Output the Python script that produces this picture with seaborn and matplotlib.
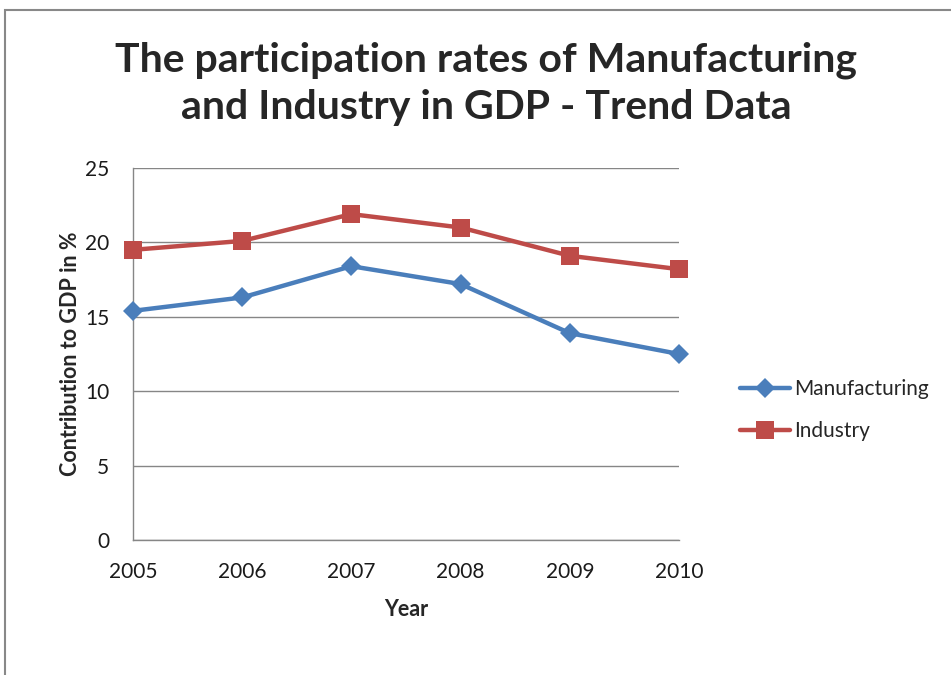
import matplotlib
matplotlib.use("Agg")
import matplotlib.pyplot as plt
import matplotlib.patches as mpatches
import seaborn as sns
import pandas as pd

years = [2005, 2006, 2007, 2008, 2009, 2010]
manufacturing = [15.4, 16.3, 18.4, 17.2, 13.9, 12.5]
industry = [19.5, 20.1, 21.9, 21.0, 19.1, 18.2]
series_names = ["Manufacturing", "Industry"]
y_ticks = [0, 5, 10, 15, 20, 25]

df = pd.DataFrame({
    "Year": years * 2,
    "Value": manufacturing + industry,
    "Series": [series_names[0]] * len(years) + [series_names[1]] * len(years),
})

sns.set_theme(style="white")
plt.rcParams["font.family"] = ["Lato", "DejaVu Sans"]

fig = plt.figure(figsize=(9.51, 6.75), dpi=100)
ax = fig.add_axes([133 / 951, 1 - 540 / 675, (679 - 133) / 951, (540 - 168) / 675])

palette = {"Manufacturing": "#4A7EBB", "Industry": "#BE4B48"}
markers = {"Manufacturing": "D", "Industry": "s"}
msizes = {"Manufacturing": 10, "Industry": 13}
sns.lineplot(data=df, x="Year", y="Value", hue="Series", style="Series",
             palette=palette, markers=markers, dashes=False,
             linewidth=3.2, markeredgewidth=0,
             ax=ax, legend=False)
for line, name in zip(ax.lines, series_names):
    line.set_clip_on(False)
    line.set_markersize(msizes[name])
    line.set_zorder(3)

ax.set_xlim(2005, 2010)
ax.set_ylim(0, 25)
ax.set_xticks(years)
ax.set_xticklabels([str(y) for y in years])
ax.set_yticks(y_ticks)
ax.yaxis.grid(True, color="#868686", linewidth=1)
ax.set_axisbelow(True)
ax.xaxis.grid(False)
for side in ["top", "right"]:
    ax.spines[side].set_visible(False)
for side in ["left", "bottom"]:
    ax.spines[side].set_color("#868686")
    ax.spines[side].set_linewidth(1)
ax.tick_params(axis="both", which="major", direction="out", length=5,
               width=1, color="#868686", labelsize=15, labelcolor="#1a1a1a")
ax.tick_params(axis="x", pad=11)
ax.tick_params(axis="y", pad=12)

ax.set_xlabel("Year", fontsize=15.5, fontweight="bold", labelpad=12)
ax.set_ylabel("Contribution to GDP in %", fontsize=15.5, fontweight="bold", labelpad=3)

fig.text(0.511, 0.876, "The participation rates of Manufacturing\nand Industry in GDP - Trend Data",
         ha="center", va="center", fontsize=29.5, fontweight="bold", linespacing=1.35)

handles = [
    plt.Line2D([], [], color=palette[n], marker=markers[n], linewidth=3.2,
               markersize=msizes[n], markeredgewidth=0)
    for n in series_names
]
fig.legend(handles, series_names, loc="center left",
           bbox_to_anchor=(740 / 951, 1 - 410 / 675), frameon=False,
           borderpad=0, borderaxespad=0,
           fontsize=15, handlelength=2.4, handletextpad=0.2, labelspacing=1.05)

fig.patches.append(mpatches.Rectangle((5 / 951, -0.1), 1.2, 1 - 10 / 675 + 0.1,
                                      transform=fig.transFigure, fill=False,
                                      edgecolor="#888888", linewidth=1.5))

fig.savefig("out.png", dpi=100, facecolor="white")
